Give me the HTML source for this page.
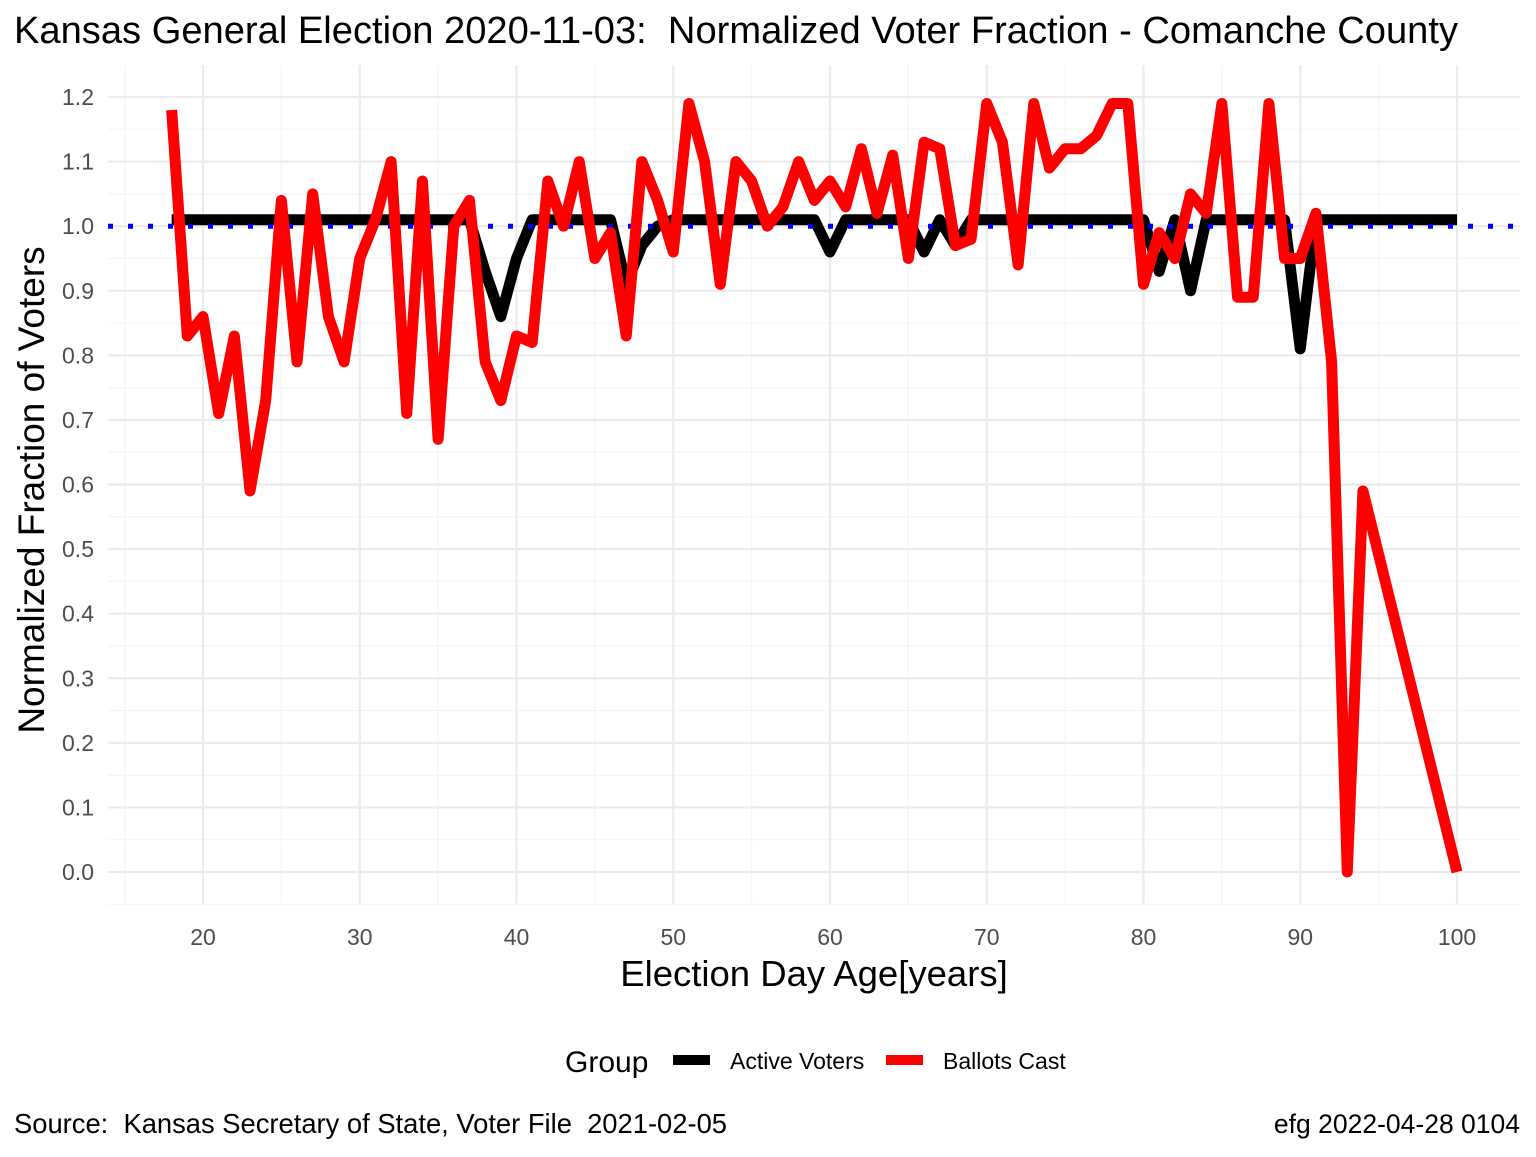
<!DOCTYPE html>
<html><head><meta charset="utf-8"><style>
body{margin:0;background:#fff;font-family:"Liberation Sans",sans-serif;}
text{white-space:pre;}
</style></head><body>
<svg width="1536" height="1152" xmlns="http://www.w3.org/2000/svg" xml:space="preserve" font-family="Liberation Sans, sans-serif">
<rect width="1536" height="1152" fill="#fff"/>
<text x="14" y="43" font-size="38" textLength="1444" lengthAdjust="spacingAndGlyphs" fill="#000">Kansas General Election 2020-11-03:  Normalized Voter Fraction - Comanche County</text>
<g id="grid"></g>
<g id="series"></g>
<g id="ticks"></g>
<text x="814" y="986" font-size="36.5" text-anchor="middle" fill="#000">Election Day Age[years]</text>
<text transform="translate(44,490) rotate(-90)" font-size="37" text-anchor="middle" fill="#000">Normalized Fraction of Voters</text>
<g>
<text x="565" y="1072" font-size="30" fill="#000">Group</text>
<rect x="673" y="1055" width="37" height="10" fill="#000"/>
<text x="730" y="1069" font-size="23" fill="#000">Active Voters</text>
<rect x="886" y="1055" width="37" height="10" fill="#ff0000"/>
<text x="943" y="1069" font-size="23" fill="#000">Ballots Cast</text>
</g>
<text x="14" y="1133" font-size="27.3" textLength="713" lengthAdjust="spacingAndGlyphs" fill="#000">Source:  Kansas Secretary of State, Voter File  2021-02-05</text>
<text x="1520" y="1133" font-size="26.5" fill="#000" text-anchor="end">efg 2022-04-28 0104</text>
</svg>
<script>
const ages = [18,19,20,21,22,23,24,25,26,27,28,29,30,31,32,33,34,35,36,37,38,39,40,41,42,43,44,45,46,47,48,49,50,51,52,53,54,55,56,57,58,59,60,61,62,63,64,65,66,67,68,69,70,71,72,73,74,75,76,77,78,79,80,81,82,83,84,85,86,87,88,89,90,91,92,93,94,100];
const ballots = [1.18,0.83,0.86,0.71,0.83,0.59,0.73,1.04,0.79,1.05,0.86,0.79,0.95,1.01,1.10,0.71,1.07,0.67,1.00,1.04,0.79,0.73,0.83,0.82,1.07,1.00,1.10,0.95,0.99,0.83,1.10,1.04,0.96,1.19,1.10,0.91,1.10,1.07,1.00,1.03,1.10,1.04,1.07,1.03,1.12,1.02,1.11,0.95,1.13,1.12,0.97,0.98,1.19,1.13,0.94,1.19,1.09,1.12,1.12,1.14,1.19,1.19,0.91,0.99,0.95,1.05,1.02,1.19,0.89,0.89,1.19,0.95,0.95,1.02,0.79,0.00,0.59,0.00];
const activeAges = [18,37,38,39,40,41,46,47,48,49,50,59,60,61,65,66,67,68,69,80,81,82,83,84,89,90,91,100];
const active = [1.01,1.01,0.93,0.86,0.95,1.01,1.01,0.91,0.97,1.00,1.01,1.01,0.96,1.01,1.01,0.96,1.01,0.97,1.01,1.01,0.93,1.01,0.90,1.01,1.01,0.81,1.01,1.01];
const xTicks = [20,30,40,50,60,70,80,90,100];
const yTicks = [0,0.1,0.2,0.3,0.4,0.5,0.6,0.7,0.8,0.9,1.0,1.1,1.2];

const NS="http://www.w3.org/2000/svg";
const L=108,R=1520,T=65,B=905;
const X=a=>203+(a-20)*15.675;
const Y=v=>872-v*645.8;
function mk(tag,attrs,parent){const e=document.createElementNS(NS,tag);for(const k in attrs)e.setAttribute(k,attrs[k]);document.getElementById(parent).appendChild(e);return e;}
for(let a=15;a<=105;a+=10){const x=X(a);if(x>=L&&x<=R){const g=mk('line',{x1:x,x2:x,y1:T,y2:B,stroke:'#f4f4f4','stroke-width':1.2},'grid');

}}
for(let v=-0.05;v<=1.25;v+=0.1){const y=Y(v);if(y>=T&&y<=B){const g=mk('line',{x1:L,x2:R,y1:y,y2:y,stroke:'#f4f4f4','stroke-width':1.2},'grid');

}}
xTicks.forEach(a=>{const g=mk('line',{x1:X(a),x2:X(a),y1:T,y2:B,stroke:'#ebebeb','stroke-width':2.2},'grid');


const t=mk('text',{x:X(a),y:945,'font-size':23,fill:'#4d4d4d','text-anchor':'middle'},'ticks');t.textContent=a;

});
yTicks.forEach(v=>{const g=mk('line',{x1:L,x2:R,y1:Y(v),y2:Y(v),stroke:'#ebebeb','stroke-width':2.2},'grid');


const t=mk('text',{x:94,y:Y(v)+8,'font-size':23,fill:'#4d4d4d','text-anchor':'end'},'ticks');t.textContent=v.toFixed(1);

});
const pts=(xs,ys)=>xs.map((a,i)=>X(a)+','+Y(ys[i])).join(' ');
const la=mk('polyline',{points:pts(activeAges,active),fill:'none',stroke:'#000','stroke-width':11,'stroke-linejoin':'round'},'series');


const ref=mk('line',{x1:L,x2:R,y1:Y(1),y2:Y(1),stroke:'#0000ff','stroke-width':5,'stroke-dasharray':'5 15'},'series');


const lb=mk('polyline',{points:pts(ages,ballots),fill:'none',stroke:'#ff0000','stroke-width':11,'stroke-linejoin':'round'},'series');


</script>
</body></html>
